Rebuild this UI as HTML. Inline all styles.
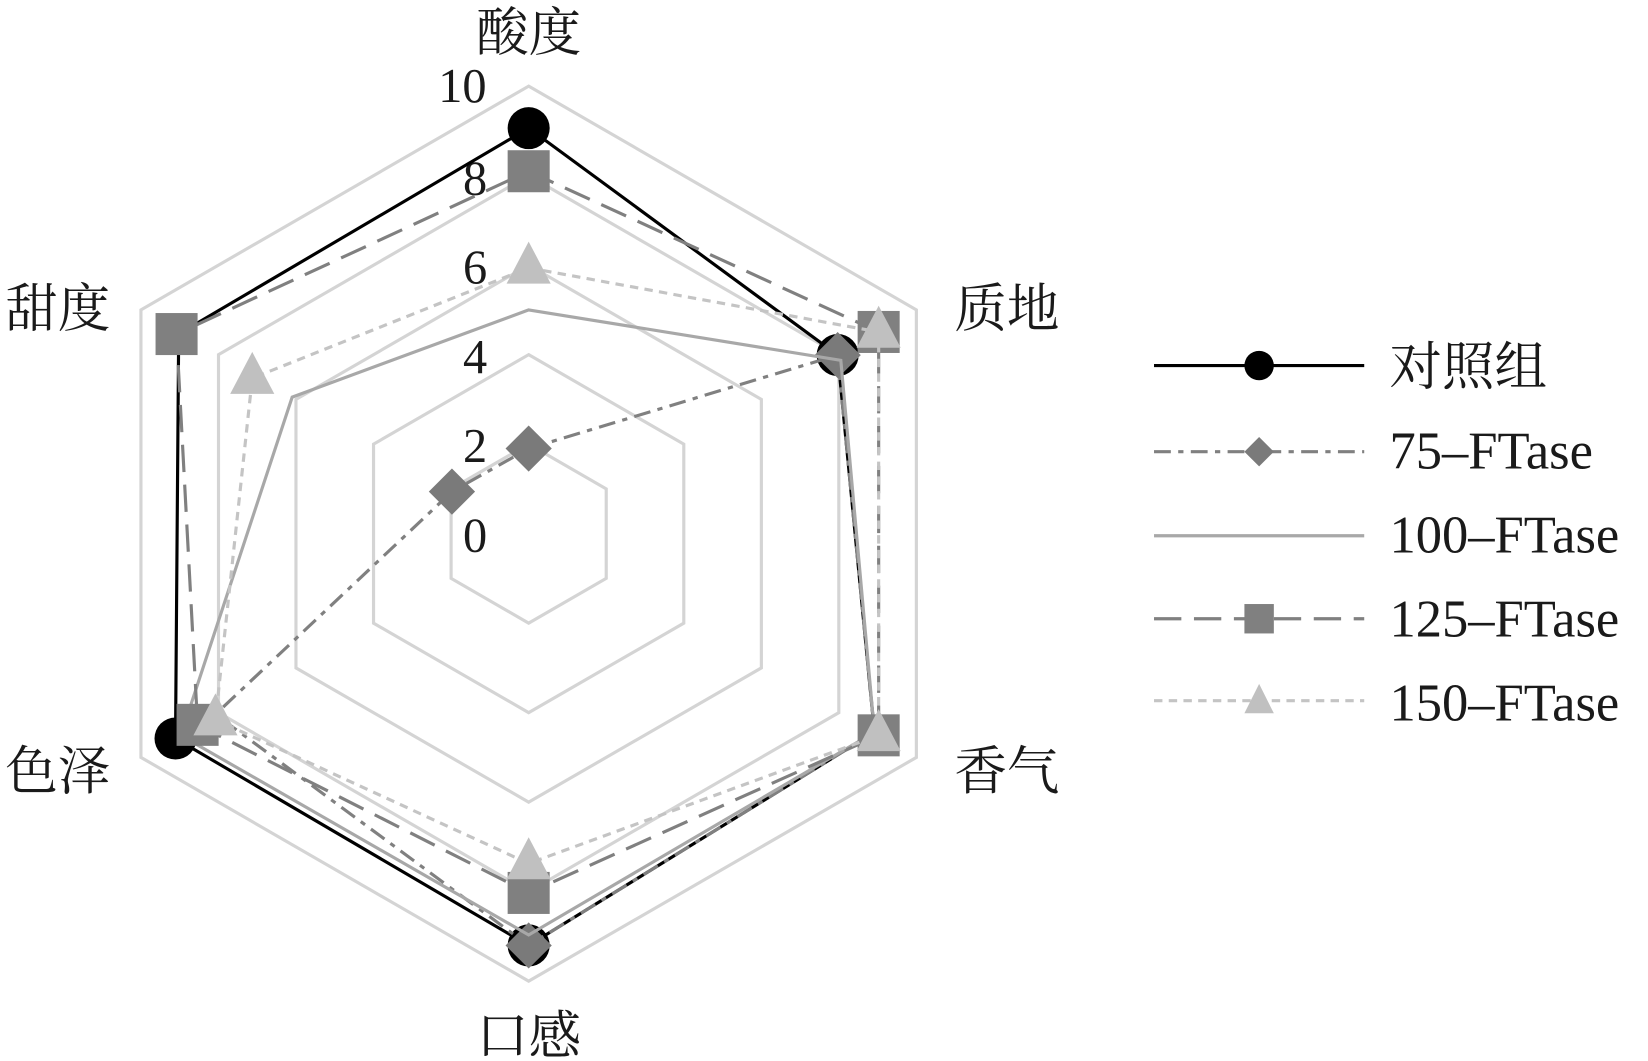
<!DOCTYPE html>
<html><head><meta charset="utf-8"><style>
html,body{margin:0;padding:0;background:#fff;overflow:hidden}
svg{display:block}
text{font-family:"Liberation Serif","Noto Serif CJK SC",serif;fill:#1a1a1a}
</style></head><body>
<svg width="1648" height="1061" viewBox="0 0 1568 1010" preserveAspectRatio="none" xmlns="http://www.w3.org/2000/svg">
<g fill="none" stroke="#d4d4d4" stroke-width="3">
<polygon points="503,422.8 576.8,465.4 576.8,550.6 503,593.2 429.2,550.6 429.2,465.4"/>
<polygon points="503,337.6 650.6,422.8 650.6,593.2 503,678.4 355.4,593.2 355.4,422.8"/>
<polygon points="503,252.4 724.4,380.2 724.4,635.8 503,763.6 281.6,635.8 281.6,380.2"/>
<polygon points="503,167.2 798.1,337.6 798.1,678.4 503,848.8 207.9,678.4 207.9,337.6"/>
<polygon points="503,82 871.9,295 871.9,721 503,934 134.1,721 134.1,295"/>
</g>
<g font-size="46" text-anchor="middle">
<text x="440" y="97">10</text>
<text x="452" y="185">8</text>
<text x="452" y="270">6</text>
<text x="452" y="355">4</text>
<text x="452" y="440">2</text>
<text x="452" y="525">0</text>
</g>
<g font-size="50" text-anchor="middle">
<text x="503" y="48">酸度</text>
<text x="958" y="311">质地</text>
<text x="958" y="751">香气</text>
<text x="503" y="1003">口感</text>
<text x="55" y="751">色泽</text>
<text x="55" y="311">甜度</text>
</g>
<polygon points="503,122 797,338 832,697 503,900 167,703 170,318" fill="none" stroke="#000" stroke-width="3"/>
<g fill="#000"><circle cx="503" cy="122" r="20"/><circle cx="797" cy="338" r="20"/><circle cx="503" cy="900" r="20"/><circle cx="167" cy="703" r="20"/></g>
<polygon points="503,427 797,338 832,697 503,900 205,680 430,468" fill="none" stroke="#808080" stroke-width="3" stroke-dasharray="16,7,5,7"/>
<g fill="#7a7a7a">
<polygon points="503,405 525,427 503,449 481,427"/><polygon points="430,446 452,468 430,490 408,468"/>
<polygon points="503,878 525,900 503,922 481,900"/><polygon points="797,316 819,338 797,360 775,338"/>
</g>
<polygon points="503,295 800,343 832,697 503,890 172,700 278,378" fill="none" stroke="#a8a8a8" stroke-width="3"/>
<polygon points="503,163 836,316 836,700 503,850 188,690 168,318" fill="none" stroke="#808080" stroke-width="3" stroke-dasharray="26,12"/>
<g fill="#808080">
<rect x="483" y="143" width="40" height="40"/><rect x="816" y="296" width="40" height="40"/><rect x="816" y="680" width="40" height="40"/>
<rect x="483" y="830" width="40" height="40"/><rect x="168" y="670" width="40" height="40"/><rect x="148" y="298" width="40" height="40"/>
</g>
<polygon points="503,255 836,316 836,700 503,822 205,685 240,360" fill="none" stroke="#c4c4c4" stroke-width="3" stroke-dasharray="8,6"/>
<g fill="#c0c0c0">
<polygon points="503,230 524,270 482,270"/><polygon points="836,291 857,331 815,331"/><polygon points="836,675 857,715 815,715"/>
<polygon points="503,797 524,837 482,837"/><polygon points="205,660 226,700 184,700"/><polygon points="240,335 261,375 219,375"/>
</g>
<line x1="1098" y1="348" x2="1298" y2="348" stroke="#000" stroke-width="3"/>
<circle cx="1198" cy="348" r="14" fill="#000"/>
<text x="1322" y="366" font-size="50">对照组</text>
<line x1="1098" y1="430" x2="1298" y2="430" stroke="#808080" stroke-width="3" stroke-dasharray="16,7,5,7"/>
<polygon points="1198,416 1212,430 1198,444 1184,430" fill="#7a7a7a"/>
<text x="1322" y="446" font-size="50">75–FTase</text>
<line x1="1098" y1="510" x2="1298" y2="510" stroke="#a8a8a8" stroke-width="3"/>
<text x="1322" y="526" font-size="50">100–FTase</text>
<line x1="1098" y1="589" x2="1298" y2="589" stroke="#808080" stroke-width="3" stroke-dasharray="26,12"/>
<rect x="1184" y="575" width="28" height="28" fill="#808080"/>
<text x="1322" y="606" font-size="50">125–FTase</text>
<line x1="1098" y1="667" x2="1298" y2="667" stroke="#c4c4c4" stroke-width="3" stroke-dasharray="8,6"/>
<polygon points="1198,651 1212,679 1184,679" fill="#c0c0c0"/>
<text x="1322" y="686" font-size="50">150–FTase</text>
</svg>
</body></html>
